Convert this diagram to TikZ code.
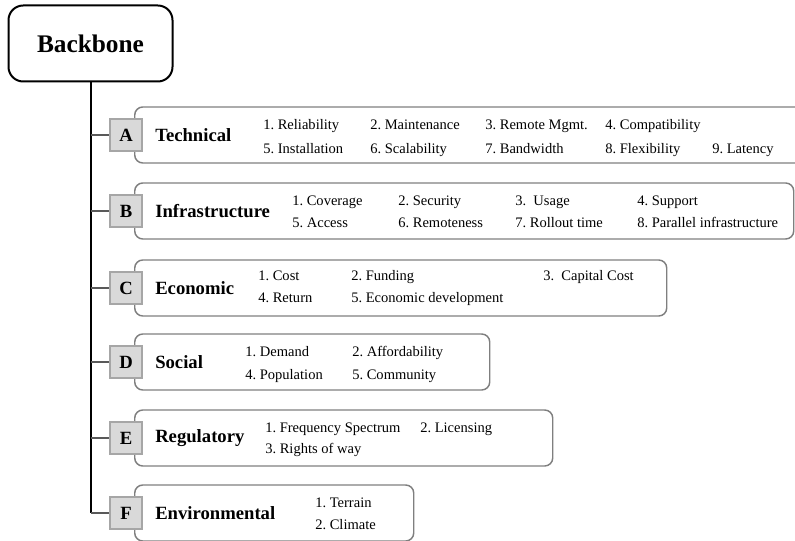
\documentclass[tikz,border=0pt]{standalone}
\usepackage{fontspec}
\setmainfont{Liberation Serif}
\frenchspacing
\definecolor{boxgray}{HTML}{7F7F7F}
\definecolor{sqfill}{HTML}{D9D9D9}
\definecolor{sqline}{HTML}{A6A6A6}
\definecolor{branchgray}{HTML}{595959}
\tikzset{root/.style = {draw, line width = 1.5pt, rounded corners = 11pt, minimum width = 123pt, minimum height = 57pt, font = \fontsize{19}{22}\selectfont\bfseries}}
\tikzset{catbox/.style = {draw = boxgray, line width = 1.1pt, rounded corners = 6pt, minimum height = 42pt, anchor = west}}
\tikzset{letter/.style = {draw = sqline, fill = sqfill, line width = 1.3pt, minimum width = 24pt, minimum height = 24.5pt, inner sep = 0, font = \fontsize{14}{16}\selectfont\bfseries}}
\tikzset{cattitle/.style = {anchor = west, inner sep = 0, font = \fontsize{14}{16}\selectfont\bfseries}}
\tikzset{item/.style = {anchor = base west, inner sep = 0, font = \fontsize{10.9}{13}\selectfont}}
\begin{document}
\begin{tikzpicture}[x=0.75pt, y=-0.75pt]
    \useasboundingbox (0, 0) rectangle (795, 541);
    \clip (0, 0) rectangle (795, 541);

    \node [root] (root) at (90.5, 43.5) {Backbone};

    \foreach \l/\t/\y/\r in {A/Technical/135/805, B/Infrastructure/211/793, C/Economic/288/666, D/Social/362/489, E/Regulatory/438/552, F/Environmental/513/413} {
      \node [catbox, minimum width = {(\r - 134)*0.75pt}] (box\l) at (134, \y) {};
      \node [letter] (\l) at (126, \y) {\l};
      \node [cattitle] (t\l) at (155, \y) {\t};
    }

    \draw [line width = 1.5pt] (root.south) -- (root.south |- F.west);
    \foreach \l in {A, B, C, D, E, F}
      \draw [branchgray, line width = 1.1pt] (root.south |- \l.west) -- (\l.west);

    % technical
    \node [item] (a1) at (263, 130) {1. Reliability};
    \node [item] (a2) at (370, 130) {2. Maintenance};
    \node [item] (a3) at (485, 130) {3. Remote Mgmt.};
    \node [item] (a4) at (605, 130) {4. Compatibility};
    \node [item] (a5) at (263, 154) {5. Installation};
    \node [item] (a6) at (370, 154) {6. Scalability};
    \node [item] (a7) at (485, 154) {7. Bandwidth};
    \node [item] (a8) at (605, 154) {8. Flexibility};
    \node [item] (a9) at (712, 154) {9. Latency};

    % infrastructure
    \node [item] (b1) at (292, 206) {1. Coverage};
    \node [item] (b2) at (398, 206) {2. Security};
    \node [item] (b3) at (515, 206) {3.\ \ Usage};
    \node [item] (b4) at (637, 206) {4. Support};
    \node [item] (b5) at (292, 228) {5. Access};
    \node [item] (b6) at (398, 228) {6. Remoteness};
    \node [item] (b7) at (515, 228) {7. Rollout time};
    \node [item] (b8) at (637, 228) {8. Parallel infrastructure};

    % economic
    \node [item] (c1) at (258, 281) {1. Cost};
    \node [item] (c2) at (351, 281) {2. Funding};
    \node [item] (c3) at (543, 281) {3.\ \ Capital Cost};
    \node [item] (c4) at (258, 302) {4. Return};
    \node [item] (c5) at (351, 302) {5. Economic development};

    % social
    \node [item] (d1) at (245, 356) {1. Demand};
    \node [item] (d2) at (352, 356) {2. Affordability};
    \node [item] (d4) at (245, 379) {4. Population};
    \node [item] (d5) at (352, 379) {5. Community};

    % regulatory
    \node [item] (e1) at (265, 432) {1. Frequency Spectrum};
    \node [item] (e2) at (420, 432) {2. Licensing};
    \node [item] (e3) at (265, 453) {3. Rights of way};

    % environmental
    \node [item] (f1) at (315, 507) {1. Terrain};
    \node [item] (f2) at (315, 529) {2. Climate};
\end{tikzpicture}
\end{document}
